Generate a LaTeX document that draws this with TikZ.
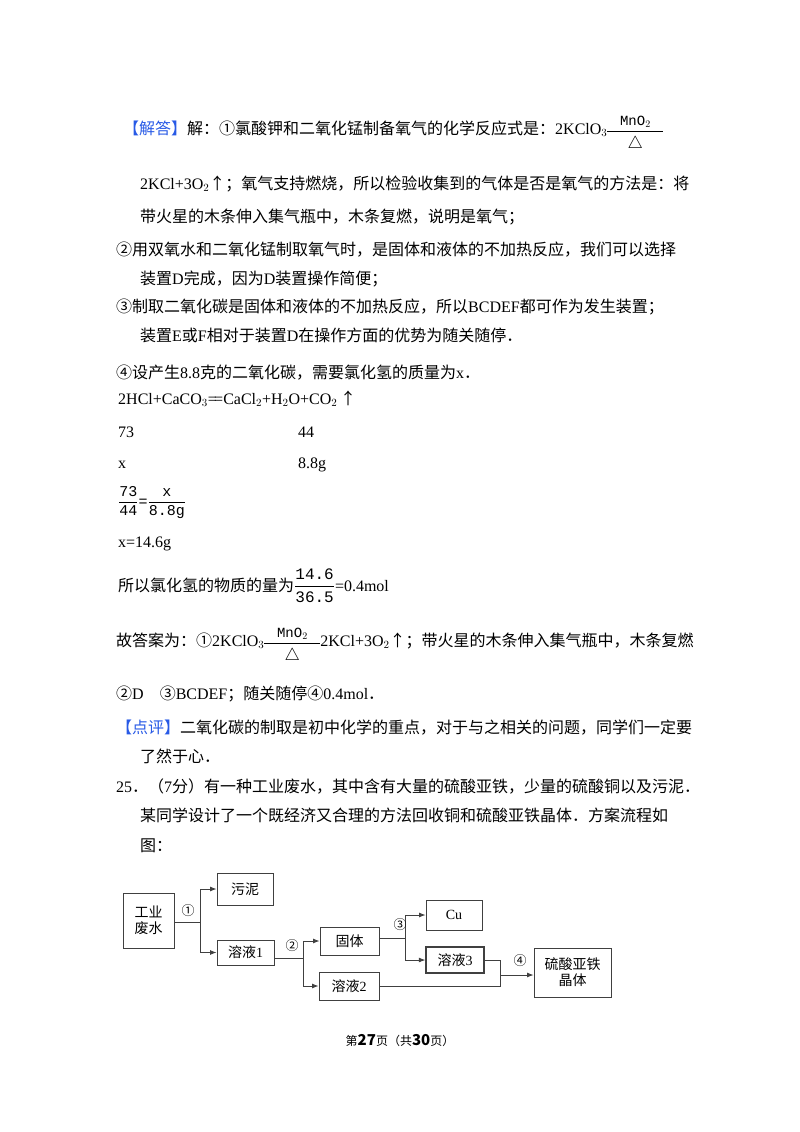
\documentclass[tikz,border=0pt]{standalone}
\usepackage{amsmath}
\usepackage{fontspec}
\setmainfont{Liberation Serif}
\newfontfamily\cjk{Noto Sans CJK SC}
\newfontfamily\monof{Liberation Mono}
\usetikzlibrary{arrows.meta,positioning}
\newcommand{\zh}[1]{{\cjk #1}}
\newcommand{\mnoeq}{$\underset{\raisebox{-3pt}{\fontsize{16}{18}\selectfont$\triangle$}}{\overset{\raisebox{2pt}{\fontsize{14}{16}\monof MnO$_2$}}{\rule[0.35ex]{56pt}{0.9pt}}}$}
\definecolor{hdblue}{RGB}{40,90,230}

\begin{document}
\begin{tikzpicture}[
  x=1pt,y=-1pt,
  >=Latex,
  txt/.style={anchor=base west,inner sep=0pt,font=\fontsize{16}{19}\selectfont},
  fbox/.style={draw=black!75,thick,minimum height=26pt,font=\fontsize{14}{16}\selectfont,inner sep=0pt},
  flow/.style={draw=black!75,thick},
  num/.style={inner sep=0pt,font=\fontsize{13}{15}\selectfont\cjk}
]
\useasboundingbox (0,0) rectangle (800,1132);

% -------------------------
% Answer text
% -------------------------
\node[txt] (l1) at (123,134) {\zh{\color{hdblue}【解答】}\zh{解：①氯酸钾和二氧化锰制备氧气的化学反应式是：}2KClO$_3$\mnoeq};
\node[txt] (l2) at (140,189) {2KCl+3O$_2$\zh{↑；氧气支持燃烧，所以检验收集到的气体是否是氧气的方法是：将}};
\node[txt] (l3) at (140,222) {\zh{带火星的木条伸入集气瓶中，木条复燃，说明是氧气；}};
\node[txt] (l4) at (116,255) {\zh{②用双氧水和二氧化锰制取氧气时，是固体和液体的不加热反应，我们可以选择}};
\node[txt] (l5) at (140,284) {\zh{装置}D\zh{完成，因为}D\zh{装置操作简便；}};
\node[txt] (l6) at (116,312) {\zh{③制取二氧化碳是固体和液体的不加热反应，所以}BCDEF\zh{都可作为发生装置；}};
\node[txt] (l7) at (140,341) {\zh{装置}E\zh{或}F\zh{相对于装置}D\zh{在操作方面的优势为随关随停．}};
\node[txt] (l8) at (116,378) {\zh{④设产生}8.8\zh{克的二氧化碳，需要氯化氢的质量为}x\zh{．}};
\node[txt] (l9) at (118,404) {2HCl+CaCO$_3$=\!=CaCl$_2$+H$_2$O+CO$_2$\,\zh{↑}};
\node[txt] (m1) at (118,437) {73};
\node[txt] (m2) at (298,437) {44};
\node[txt] (m3) at (118,468) {x};
\node[txt] (m4) at (298,468) {8.8g};
\node[txt,font=\fontsize{15}{17}\monof] (fr) at (118,506) {$\genfrac{}{}{0.4pt}{0}{\mbox{73}}{\mbox{44}}$=$\genfrac{}{}{0.4pt}{0}{\mbox{x}}{\mbox{8.8g}}$};
\node[txt] (l10) at (118,547) {x=14.6g};
\node[txt] (l11) at (118,591) {\zh{所以氯化氢的物质的量为}{\monof$\genfrac{}{}{0.5pt}{0}{\mbox{14.6}}{\mbox{36.5}}$}=0.4mol};
\node[txt] (l12) at (116,646) {\zh{故答案为：①}2KClO$_3$\mnoeq 2KCl+3O$_2$\zh{↑；带火星的木条伸入集气瓶中，木条复燃}};
\node[txt] (l13) at (116,699) {\zh{②}D\quad\zh{③}BCDEF\zh{；随关随停④}0.4mol\zh{．}};
\node[txt] (l14) at (116,733) {\zh{\color{hdblue}【点评】}\zh{二氧化碳的制取是初中化学的重点，对于与之相关的问题，同学们一定要}};
\node[txt] (l15) at (140,762) {\zh{了然于心．}};
\node[txt] (l16) at (116,792) {25\zh{．（}7\zh{分）有一种工业废水，其中含有大量的硫酸亚铁，少量的硫酸铜以及污泥．}};
\node[txt] (l17) at (140,821) {\zh{某同学设计了一个既经济又合理的方法回收铜和硫酸亚铁晶体．方案流程如}};
\node[txt] (l18) at (140,851) {\zh{图：}};

% -------------------------
% Flow chart
% -------------------------
\node[fbox,minimum width=51pt,minimum height=55pt,align=center] (water) at (148.5,920.5) {\zh{工业}\\\zh{废水}};
\node[fbox,minimum width=56pt,minimum height=32pt] (mud) at (245,889) {\zh{污泥}};
\node[fbox,minimum width=57pt,minimum height=25pt] (solA) at (245.5,952.5) {\zh{溶液}1};
\node[fbox,minimum width=59pt,minimum height=28pt] (solid) at (349.5,941) {\zh{固体}};
\node[fbox,minimum width=60pt,minimum height=28pt] (solB) at (349,986) {\zh{溶液}2};
\node[fbox,minimum width=56pt,minimum height=30pt] (cu) at (454,915) {Cu};
\node[fbox,very thick,minimum width=58pt,minimum height=26pt] (solC) at (455,960) {\zh{溶液}3};
\node[fbox,minimum width=77pt,minimum height=49pt,align=center] (cryst) at (572.5,972.5) {\zh{硫酸亚铁}\\\zh{晶体}};

\coordinate (jA) at (200,922);
\coordinate (jB) at (303,958);
\coordinate (jC) at (405,938);
\coordinate (jD) at (500,975);

\draw[flow] (water.east |- jA) -- (jA);
\draw[flow,->] (jA) |- (mud.west);
\draw[flow,->] (jA) |- (solA.west);
\draw[flow] (solA.east |- jB) -- (jB);
\draw[flow,->] (jB |- solid.west) -- (solid.west);
\draw[flow,->] (jB |- solid.west) |- (solB.west);
\draw[flow] (solid.east |- jC) -- (jC);
\draw[flow,->] (jC) |- (cu.west);
\draw[flow,->] (jC) |- (solC.west);
\draw[flow] (solC.east) -| (jD);
\draw[flow] (solB.east) -| (jD);
\draw[flow,->] (jD) -- (cryst.west |- jD);

\node[num] (n1) at (188,911) {①};
\node[num] (n2) at (292,946) {②};
\node[num] (n3) at (400,925) {③};
\node[num] (n4) at (520,961) {④};

% footer
\node[inner sep=0pt,font=\fontsize{12}{14}\selectfont] (foot) at (400,1041) {\zh{第}\textbf{\fontsize{15}{16}\selectfont\cjk 27}\zh{页（共}\textbf{\fontsize{15}{16}\selectfont\cjk 30}\zh{页）}};
\end{tikzpicture}
\end{document}
